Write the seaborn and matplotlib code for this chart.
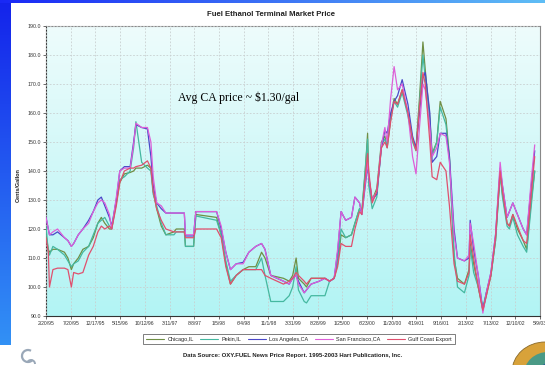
import numpy as np
import pandas as pd
import matplotlib
matplotlib.use("Agg")
import matplotlib.pyplot as plt
import matplotlib.dates as mdates
from matplotlib.patches import Ellipse, Arc
import seaborn as sns

# Weekly terminal prices, cents per gallon; week counted from 2/20/95
week = [0, 2, 3, 6, 10, 16, 19, 22, 24, 28, 32, 37, 41, 45, 48, 51, 55, 57, 61, 64,
        68, 73, 76, 78, 83, 88, 91, 93, 96, 100, 104, 111, 113, 120, 121, 128, 130, 148, 152, 156,
        160, 165, 171, 176, 182, 187, 190, 195, 206, 211, 214, 217, 219, 224, 226, 230, 237, 242, 246, 250,
        253, 256, 260, 265, 268, 272, 274, 277, 279, 280, 283, 287, 291, 294, 296, 299, 302, 305, 309, 314,
        318, 321, 324, 327, 329, 333, 335, 339, 342, 347, 350, 354, 357, 363, 367, 368, 371, 375, 379, 382,
        386, 390, 394, 396, 400, 402, 405, 409, 414, 417, 421, 424]

chicago = [118, 113, 112, 113, 113, 112, 110, 106, 108, 110, 113, 114, 117, 122, 124, 122, 120, 120, 129, 136,
           139, 139.5, 140, 141, 141, 142, 141, 133, 127, 121, 118, 119, 120, 120, 114, 114, 125, 124, 118, 108,
           101, 104, 106, 107, 107, 112, 110, 104, 103, 102, 104, 110, 103, 101, 100, 103, 103, 103, 102, 103,
           108, 118, 117, 118, 122, 127, 126, 140, 153, 137, 130, 134, 150, 152, 148, 158, 165, 163, 168, 160,
           151, 148, 165, 184.5, 175, 158, 146, 150, 164, 158, 145, 110, 103, 101, 106, 115, 108, 100, 92, 97,
           104, 116, 139, 132, 122, 121, 125, 120, 116, 113, 130, 140]

pekin = [121, 112, 111, 114, 113, 111, 109, 107, 108, 109, 112, 114, 118, 122, 123, 124, 121, 120, 130, 137,
         138, 140, 148, 157, 143, 141, 140, 132, 128, 122, 118, 118, 119, 119, 114, 114, 124.5, 123, 118, 109,
         102, 104, 106, 106, 106, 110, 104, 95, 95, 97, 100, 107, 99, 95, 94.5, 97, 97, 97, 102, 103,
         109, 120, 117, 118, 122, 127, 126, 141, 151, 135, 127, 131, 149, 151, 149, 158, 164, 162, 167, 159,
         150, 147, 163, 180, 172, 157, 145, 150, 162, 156, 144, 112, 100, 98, 104, 114, 105, 100, 93, 98,
         104, 116, 139, 131, 121, 120, 124, 118, 114, 112, 128, 140]

los_angeles = [124, 120, 118, 118, 119, 117, 116, 114, 115, 118, 120, 123, 126, 130, 131, 128, 124, 121, 130, 140,
               141.5, 141.5, 150, 156, 155, 154.5, 145, 135, 129, 127, 125.5, 125.5, 125.5, 125.5, 117.6, 117.6, 126, 126, 120, 112,
               106, 108, 108.5, 112, 114, 115, 113, 104, 102, 101, 103, 104, 102, 98, 99, 101, 102, 103, 102, 103,
               112, 126, 123, 124, 131, 129, 125, 135, 142, 138, 130, 132, 148, 154, 153, 160, 164, 166, 171.5, 163,
               152, 148, 160, 172, 174, 160, 143, 145, 153, 153, 145, 120, 110, 109, 110, 123, 113, 104, 92, 98,
               105, 118, 141, 135, 124, 126, 129, 125, 120, 118, 135, 147]

san_francisco = [124, 120, 118, 119, 120, 117, 116, 114, 115, 118, 120, 122, 126, 129, 130, 129, 125, 120, 131, 140,
                 141, 141, 149, 156.5, 155, 155, 150, 138, 129, 128, 125.5, 125.5, 125.5, 125.5, 118, 118, 126, 126, 121, 112,
                 106, 108, 108, 112, 114, 115, 113, 104, 102, 101, 103, 104, 101, 98, 99, 101, 102, 103, 102, 103,
                 113, 126, 123, 124, 131, 129, 125, 136, 143, 138, 130, 133, 149, 155, 150, 165, 176, 168, 170, 160,
                 145, 139, 155, 170, 168, 155, 145, 148, 153, 152, 143, 118, 110, 109, 111, 122, 115, 104, 91, 98,
                 105, 118, 143, 135, 124, 126, 129, 125, 120, 118, 137, 149]

gulf_coast = [117, 112, 100, 106, 106.5, 106.5, 106, 100, 105, 104.5, 105, 111, 114, 119, 121, 120, 121, 120, 128, 136,
              140, 141, 141, 141.5, 142, 143.5, 141, 133, 127, 123, 120, 119, 119, 119, 117, 117, 120, 120, 117, 107,
              101, 104, 106, 106, 106, 106, 104, 103, 101, 102, 103, 105, 104, 102, 101, 103, 103, 103, 102, 103,
              107, 115, 114, 114, 120, 126, 125, 138, 146, 140, 129, 133, 148, 150, 148, 157, 164, 163, 168, 160,
              151, 147, 162, 174, 170, 150, 138, 137, 143, 140, 128, 108, 102, 101, 105, 118, 110, 100, 92, 97,
              104, 117, 140, 133, 122, 121, 125, 121, 116, 115, 132, 145]

series_names = ["Chicago,IL", "Pekin,IL", "Los Angeles,CA", "San Francisco,CA", "Gulf Coast Export"]
series_colors = ["#6f8f45", "#45b8a0", "#4b48c8", "#dd5fd8", "#e0506e"]

tick_labels = ["2/20/95", "7/20/95", "12/17/95", "5/15/96", "10/12/96", "3/11/97", "8/8/97",
               "1/5/98", "6/4/98", "11/1/98", "3/31/99", "8/28/99", "1/25/00", "6/23/00",
               "11/20/00", "4/19/01", "9/16/01", "2/13/02", "7/13/02", "12/10/02", "5/9/03"]
y_ticks = [90, 100, 110, 120, 130, 140, 150, 160, 170, 180, 190]

start = pd.Timestamp("1995-02-20")
dates = start + pd.to_timedelta(np.array(week) * 7, unit="D")

frames = []
for name, vals in zip(series_names, [chicago, pekin, los_angeles, san_francisco, gulf_coast]):
    assert len(vals) == len(week), name
    frames.append(pd.DataFrame({"date": dates, "price": vals, "market": name}))
df = pd.concat(frames, ignore_index=True)

sns.set_theme(style="white")
plt.rcParams["font.family"] = ["Liberation Sans", "DejaVu Sans"]

W, H = 545, 365
fig = plt.figure(figsize=(W / 100, H / 100), dpi=100)
fig.patch.set_facecolor("white")

# slide frame: blue band on the left and along the top
bg = np.ones((H, W, 3))
for r in range(345):
    t = r / 345
    bg[r, :11] = [(20 + 30 * t) / 255, (35 + 110 * t) / 255, (235 + 10 * t) / 255]
for c in range(W):
    t = c / W
    bg[:3, c] = [(25 + 70 * t) / 255, (40 + 150 * t) / 255, 245 / 255]
bax = fig.add_axes([0, 0, 1, 1], zorder=-10)
bax.imshow(bg, aspect="auto", extent=[0, W, H, 0])
bax.set_xlim(0, W)
bax.set_ylim(H, 0)
bax.set_axis_off()

# small logos in the bottom corners
bax.add_patch(Arc((28, 356), 12, 12, theta1=40, theta2=300, color="#9aa8b8", linewidth=1.6))
bax.add_patch(Arc((31, 364), 8, 8, theta1=200, theta2=360, color="#9aa8b8", linewidth=1.4))
bax.add_patch(Ellipse((545, 372), 66, 60, facecolor="#d8a23a", edgecolor="#8a6a2a", linewidth=0.6))
bax.add_patch(Ellipse((548, 374), 48, 44, facecolor="#4a9a86", edgecolor="none"))
bax.add_patch(Ellipse((552, 376), 30, 28, facecolor="#2f5f9a", edgecolor="none"))

L, R, T, B = 46, 540, 26, 316
ax = fig.add_axes([L / W, 1 - B / H, (R - L) / W, (B - T) / H])

x0 = pd.Timestamp("1995-02-20")
x1 = pd.Timestamp("2003-05-09")
xa, xb = mdates.date2num(x0), mdates.date2num(x1)

# light cyan fill, paler toward the top
grad = np.linspace(0, 1, 256)[:, None]
top_c = np.array([238, 252, 252]) / 255
bot_c = np.array([178, 244, 244]) / 255
img = top_c[None, None, :] * (1 - grad[..., None]) + bot_c[None, None, :] * grad[..., None]
img = np.repeat(img, 2, axis=1)
ax.imshow(img, aspect="auto", extent=[xa, xb, 90, 190], zorder=0)

sns.lineplot(data=df, x="date", y="price", hue="market", hue_order=series_names,
             palette=series_colors, linewidth=0.9, ax=ax, legend=False, zorder=3,
             estimator=None, sort=False)

ax.set_xlim(xa, xb)
ax.set_ylim(90, 190)
tick_dates = [pd.Timestamp("1995-02-20") + pd.Timedelta(days=150 * i) for i in range(len(tick_labels))]
ax.set_xticks([mdates.date2num(d) for d in tick_dates])
ax.set_xticklabels(tick_labels, fontsize=3.6, color="#333333")
ax.set_yticks(y_ticks)
ax.set_yticklabels([f"{v:.1f}" for v in y_ticks], fontsize=3.8, color="#333333")
ax.tick_params(axis="both", direction="out", length=2, width=0.5, pad=1.5, colors="#333333",
               labelcolor="#333333", bottom=True, left=True)
ax.grid(True, linestyle=(0, (2, 2)), color="#c9cfd0", linewidth=0.6, zorder=1)
ax.set_axisbelow(False)
for s in ["left", "bottom"]:
    ax.spines[s].set_color("#333333")
    ax.spines[s].set_linewidth(0.8)
for s in ["top", "right"]:
    ax.spines[s].set_color("#888888")
    ax.spines[s].set_linewidth(0.8)
ax.set_xlabel("")
ax.set_ylabel("")

fig.text(18 / W, 1 - 185 / H, "Cents/Gallon", rotation=90, fontsize=4, fontweight="bold",
         ha="center", va="center", color="#222222")
fig.text(271 / W, 1 - 15 / H, "Fuel Ethanol Terminal Market Price", fontsize=5.6,
         fontweight="bold", ha="center", va="center", color="#222222")
ax.text(mdates.date2num(pd.Timestamp("1997-05-03")), 164.3, "Avg CA price ~ $1.30/gal",
        fontsize=8.5, family=["Liberation Serif", "DejaVu Serif"], color="black",
        ha="left", va="baseline", zorder=5)

handles = [plt.Line2D([], [], color=c, linewidth=0.8) for c in series_colors]
leg = fig.legend(handles, series_names, loc="center", bbox_to_anchor=(299 / W, 1 - 339 / H),
                 ncol=5, fontsize=4, frameon=True, fancybox=False, handlelength=3.2,
                 handletextpad=0.6, columnspacing=1.2, borderpad=0.5)
leg.get_frame().set_edgecolor("#444444")
leg.get_frame().set_linewidth(0.6)

fig.text(293 / W, 1 - 356 / H,
         "Data Source: OXY.FUEL News Price Report. 1995-2003 Hart Publications, Inc.",
         fontsize=4.3, fontweight="bold", ha="center", va="center", color="#222222")

fig.savefig("out.png", dpi=100)
